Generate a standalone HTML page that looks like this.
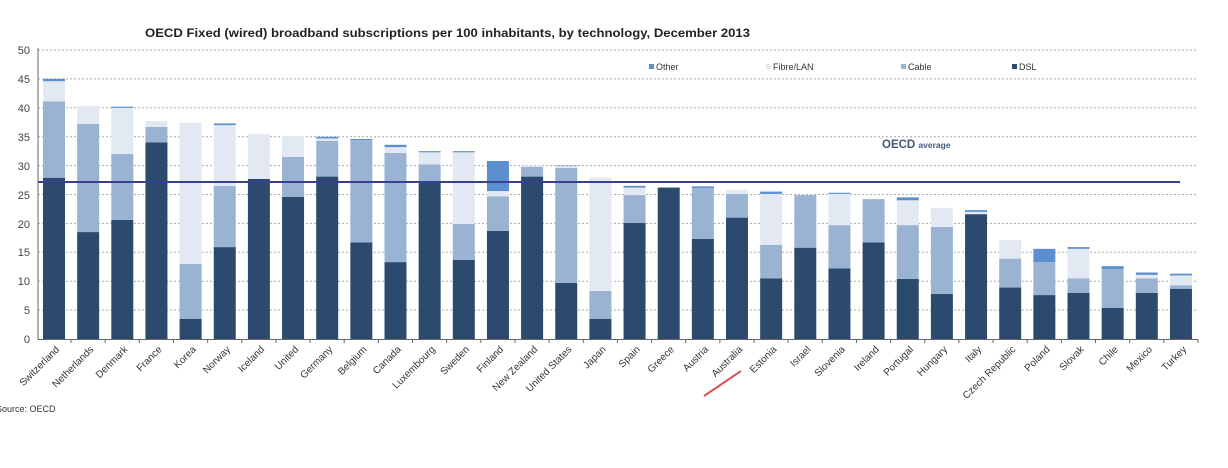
<!DOCTYPE html>
<html><head><meta charset="utf-8"><style>
body{margin:0;background:#fff;}
svg{display:block;font-family:"Liberation Sans",Arial,sans-serif;}
</style></head><body>
<svg id="s" width="1228" height="468" viewBox="0 0 1228 468">
<rect width="1228" height="468" fill="#fff"/>
<text x="145" y="37" font-size="11.5" font-weight="bold" fill="#222" textLength="605" lengthAdjust="spacingAndGlyphs">OECD Fixed (wired) broadband subscriptions per 100 inhabitants, by technology, December 2013</text>
<g id="grid"></g>
<g font-size="11" fill="#444" text-anchor="end">
<text x="30" y="54">50</text><text x="30" y="83">45</text><text x="30" y="112">40</text><text x="30" y="141">35</text><text x="30" y="170">30</text><text x="30" y="199">25</text><text x="30" y="228">20</text><text x="30" y="256">15</text><text x="30" y="285">10</text><text x="30" y="314">5</text><text x="30" y="343">0</text>
</g>
<g id="bars"></g>
<line x1="38" y1="182" x2="1180" y2="182" stroke="#3b3f8f" stroke-width="2"/>
<line x1="38" y1="48" x2="38" y2="340" stroke="#666" stroke-width="1"/>
<line x1="38" y1="339.5" x2="1198" y2="339.5" stroke="#666" stroke-width="1"/>
<text x="882" y="148" font-size="11.5" font-weight="bold" fill="#41587a">OECD <tspan font-size="8.5">average</tspan></text>
<g font-size="9" fill="#333">
<rect x="649" y="64" width="5" height="5" fill="#5b8fcf"/><text x="656" y="70">Other</text>
<rect x="766" y="64" width="5" height="5" fill="#e3e9f3"/><text x="773" y="70">Fibre/LAN</text>
<rect x="901" y="64" width="5" height="5" fill="#9ab3d3"/><text x="908" y="70">Cable</text>
<rect x="1012" y="64" width="5" height="5" fill="#2b4a6e"/><text x="1019" y="70">DSL</text>
</g>
<g font-size="10" fill="#333" text-anchor="end">
<text transform="translate(60,350) rotate(-45)">Switzerland</text>
<text transform="translate(94.2,350) rotate(-45)">Netherlands</text>
<text transform="translate(128.3,350) rotate(-45)">Denmark</text>
<text transform="translate(162.5,350) rotate(-45)">France</text>
<text transform="translate(196.6,350) rotate(-45)">Korea</text>
<text transform="translate(230.8,350) rotate(-45)">Norway</text>
<text transform="translate(264.9,350) rotate(-45)">Iceland</text>
<text transform="translate(299.1,350) rotate(-45)">United</text>
<text transform="translate(333.2,350) rotate(-45)">Germany</text>
<text transform="translate(367.4,350) rotate(-45)">Belgium</text>
<text transform="translate(401.5,350) rotate(-45)">Canada</text>
<text transform="translate(435.7,350) rotate(-45)">Luxembourg</text>
<text transform="translate(469.8,350) rotate(-45)">Sweden</text>
<text transform="translate(504,350) rotate(-45)">Finland</text>
<text transform="translate(538.1,350) rotate(-45)">New Zealand</text>
<text transform="translate(572.3,350) rotate(-45)">United States</text>
<text transform="translate(606.4,350) rotate(-45)">Japan</text>
<text transform="translate(640.6,350) rotate(-45)">Spain</text>
<text transform="translate(674.7,350) rotate(-45)">Greece</text>
<text transform="translate(708.9,350) rotate(-45)">Austria</text>
<text transform="translate(743,350) rotate(-45)">Australia</text>
<text transform="translate(777.2,350) rotate(-45)">Estonia</text>
<text transform="translate(811.3,350) rotate(-45)">Israel</text>
<text transform="translate(845.5,350) rotate(-45)">Slovenia</text>
<text transform="translate(879.6,350) rotate(-45)">Ireland</text>
<text transform="translate(913.8,350) rotate(-45)">Portugal</text>
<text transform="translate(947.9,350) rotate(-45)">Hungary</text>
<text transform="translate(982.1,350) rotate(-45)">Italy</text>
<text transform="translate(1016.2,350) rotate(-45)">Czech Republic</text>
<text transform="translate(1050.4,350) rotate(-45)">Poland</text>
<text transform="translate(1084.5,350) rotate(-45)">Slovak</text>
<text transform="translate(1118.7,350) rotate(-45)">Chile</text>
<text transform="translate(1152.8,350) rotate(-45)">Mexico</text>
<text transform="translate(1187,350) rotate(-45)">Turkey</text>
</g>
<line x1="704" y1="396" x2="741" y2="371" stroke="#e05050" stroke-width="2"/>
<text x="-4" y="412" font-size="9" fill="#333">Source: OECD</text>
</svg>
<script>
var NS="http://www.w3.org/2000/svg";
function el(p,t,a){var e=document.createElementNS(NS,t);for(var k in a)e.setAttribute(k,a[k]);p.appendChild(e);return e;}
var g=document.getElementById('grid');
for(var v=5;v<=50;v+=5){var y=339-v*5.78;el(g,'line',{x1:38,x2:1198,y1:y,y2:y,stroke:'#aaa','stroke-dasharray':'2,2','stroke-width':1});}
var d=[[27.9,41.1,44.6,45],[18.5,37.2,40.3,40.3],[20.6,32,40,40.2],[34,36.7,37.7,37.7],[3.5,13,37.4,37.4],[15.9,26.5,37,37.3],[27.7,27.7,35.5,35.5],[24.6,31.5,35.1,35.1],[28.1,34.3,34.7,35],[16.7,34.4,34.4,34.6],[13.3,32.2,33.2,33.6],[27,30.2,32.3,32.5],[13.7,19.9,32.3,32.5],[18.7,24.7,25.6,30.8],[28.1,29.8,30,30],[9.7,29.6,29.9,30],[3.5,8.3,27.9,27.9],[20.1,24.9,26.2,26.5],[26.2,26.2,26.2,26.2],[17.3,26.1,26.1,26.4],[21,25.1,25.8,25.8],[10.5,16.3,25.1,25.5],[15.8,24.9,24.9,24.9],[12.2,19.7,25.1,25.3],[16.7,24.2,24.2,24.2],[10.4,19.7,24,24.5],[7.8,19.4,22.7,22.7],[21.6,21.6,22,22.3],[8.9,13.9,17.1,17.1],[7.6,13.3,13.3,15.6],[8,10.5,15.6,15.9],[5.4,12.1,12.1,12.6],[8,10.5,11.1,11.5],[8.7,9.3,11,11.3]];
var cols=['#2b4a6e','#9ab3d3','#e3e9f3','#5b8fcf'];
var b=document.getElementById('bars');
d.forEach(function(r,i){var cx=54+34.15*i,prev=0;
for(var j=0;j<4;j++){var t=r[j];if(t>prev){var y1=339-t*5.78,y0=339-prev*5.78;el(b,'rect',{x:cx-11,y:y1,width:22,height:y0-y1,fill:cols[j]});}prev=Math.max(prev,t);}
el(b,'line',{x1:cx+17,x2:cx+17,y1:339,y2:343,stroke:'#666'});});
</script>
</body></html>
